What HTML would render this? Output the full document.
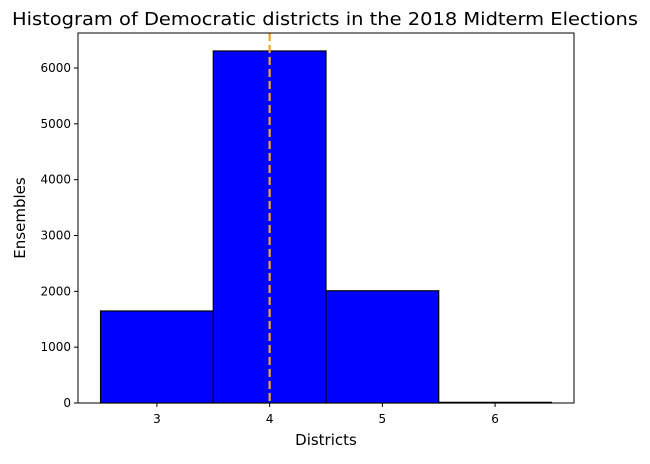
<!DOCTYPE html>
<html><head><meta charset="utf-8"><style>
body{margin:0;background:#fff;font-family:"DejaVu Sans","Liberation Sans",sans-serif}
</style></head><body>
<svg id="chart" width="650" height="460" xmlns="http://www.w3.org/2000/svg" font-family="DejaVu Sans, Liberation Sans, sans-serif">
<text x="325" y="25" text-anchor="middle" font-size="18" textLength="626" lengthAdjust="spacingAndGlyphs">Histogram of Democratic districts in the 2018 Midterm Elections</text>
<g id="bars"></g>
<g id="axes"></g>
<text x="326" y="445" text-anchor="middle" font-size="15">Districts</text>
<text transform="translate(25,218) rotate(-90)" text-anchor="middle" font-size="15">Ensembles</text>
</svg>
<script>
const binEdges=[2.5,3.5,4.5,5.5,6.5];
const counts=[1648,6305,2010,12];
const xTicks=[3,4,5,6];
const yTicks=[0,1000,2000,3000,4000,5000,6000];
const meanLine=[4];
const L=78,R=574,T=33,B=403,xmin=2.3,xmax=6.7,ymax=6627;
const sx=v=>L+(v-xmin)/(xmax-xmin)*(R-L);
const sy=v=>B-v/ymax*(B-T);
const NS="http://www.w3.org/2000/svg";
function mk(t,a,p){const e=document.createElementNS(NS,t);for(const k in a)e.setAttribute(k,a[k]);p.appendChild(e);return e;}
const bars=document.getElementById('bars'),axes=document.getElementById('axes');
counts.forEach((c,i)=>{
 const r=mk('rect',{x:sx(binEdges[i]),y:sy(c),width:sx(binEdges[i+1])-sx(binEdges[i]),height:B-sy(c),fill:'#0000ff',stroke:'#000','stroke-width':1.2},bars);
 
 
});
meanLine.forEach(m=>{
 const l=mk('line',{x1:sx(m),x2:sx(m),y1:T,y2:B,stroke:'#f5a623','stroke-width':2.2,'stroke-dasharray':'8,4'},bars);
 
 
});
const f=mk('rect',{x:L,y:T,width:R-L,height:B-T,fill:'none',stroke:'#000','stroke-width':1},axes);


xTicks.forEach(t=>{
 mk('line',{x1:sx(t),x2:sx(t),y1:B,y2:B+4,stroke:'#000'},axes);
 const tx=mk('text',{x:sx(t),y:B+20,'text-anchor':'middle','font-size':12},axes);
 tx.textContent=t;
 
 
});
yTicks.forEach(t=>{
 mk('line',{x1:L-4,x2:L,y1:sy(t),y2:sy(t),stroke:'#000'},axes);
 const tx=mk('text',{x:L-7,y:sy(t)+4,'text-anchor':'end','font-size':12},axes);
 tx.textContent=t;
 
 
});
</script>
</body></html>
